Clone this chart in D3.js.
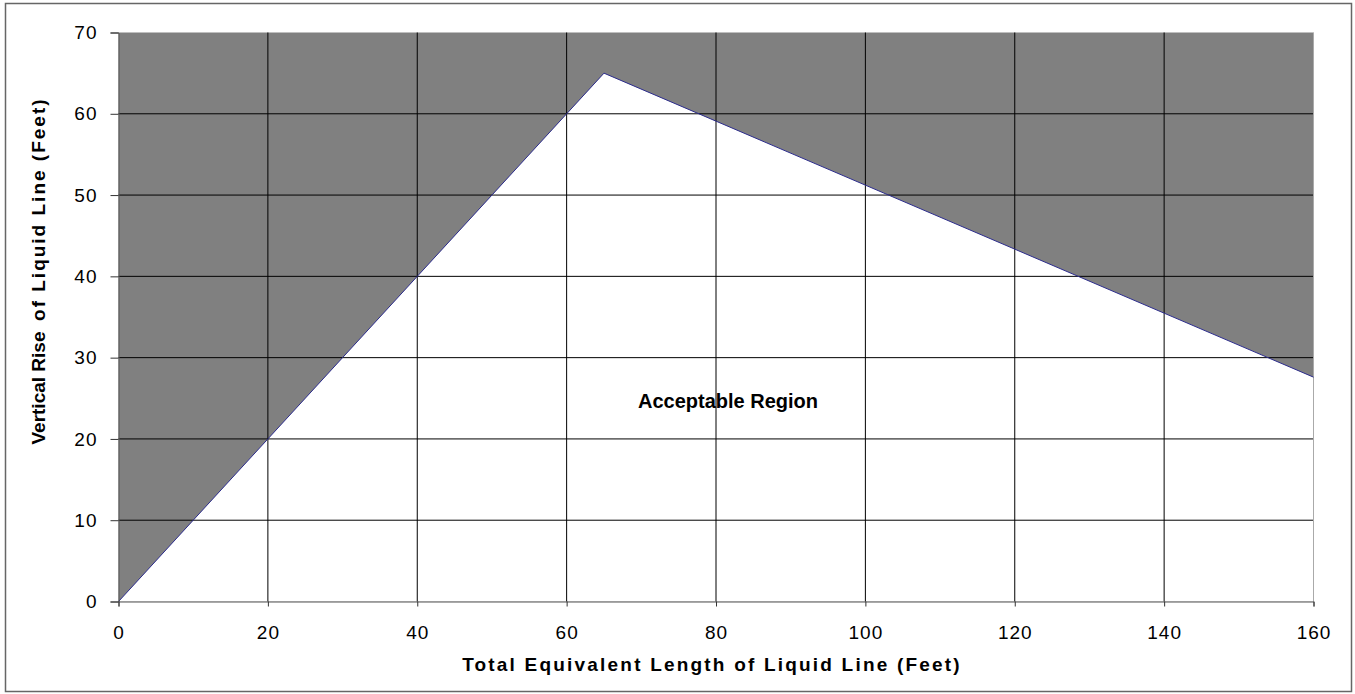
<!DOCTYPE html>
<html>
<head>
<meta charset="utf-8">
<script src="https://cdn.jsdelivr.net/npm/d3@7"></script>
<style>
  body { margin: 0; background: #fff; }
  text { font-family: Arial, "Liberation Sans", sans-serif; }
</style>
</head>
<body>
<svg id="chart" width="1355" height="694"></svg>
<script>
// boundary of the acceptable region (feet)
const lengths = [0, 65, 160];
const rises = [0, 65, 27.6];
const xTicks = [0, 20, 40, 60, 80, 100, 120, 140, 160];
const yTicks = [0, 10, 20, 30, 40, 50, 60, 70];

const svg = d3.select("#chart");

// outer frame
svg.append("rect")
    .attr("x", 5.5).attr("y", 3.5)
    .attr("width", 1346).attr("height", 688)
    .attr("fill", "#fff")
    .attr("stroke", "#666")
    .attr("stroke-width", 1.5);

const plotLeft = 118.5, plotRight = 1313.5, plotTop = 32.5, plotBottom = 601.5;

const x = d3.scaleLinear().domain([0, 160]).range([plotLeft, plotRight]);
const y = d3.scaleLinear().domain([0, 70]).range([plotBottom, plotTop]);

// shaded (not allowed) area
svg.append("rect")
    .attr("x", plotLeft).attr("y", plotTop)
    .attr("width", plotRight - plotLeft).attr("height", plotBottom - plotTop)
    .attr("fill", "#808080");

// acceptable region, white
const pts = lengths.map((l, i) => [x(l), y(rises[i])]);
const area = [...pts, [x(160), y(0)], [x(0), y(0)]];
svg.append("path")
    .attr("d", d3.line()(area) + "Z")
    .attr("fill", "#fff");

// grid
svg.append("g").selectAll("line")
    .data(yTicks.slice(1, -1))
    .enter().append("line")
    .attr("x1", plotLeft).attr("x2", plotRight)
    .attr("y1", d => y(d)).attr("y2", d => y(d))
    .attr("stroke", "#000").attr("stroke-width", 1);

svg.append("g").selectAll("line")
    .data(xTicks.slice(1, -1))
    .enter().append("line")
    .attr("x1", d => x(d)).attr("x2", d => x(d))
    .attr("y1", plotTop).attr("y2", plotBottom)
    .attr("stroke", "#000").attr("stroke-width", 1);

// right edge of plot
svg.append("line")
    .attr("x1", plotRight).attr("x2", plotRight)
    .attr("y1", plotTop).attr("y2", plotBottom)
    .attr("stroke", "#aaa");

// boundary line
svg.append("path")
    .attr("d", d3.line()(pts))
    .attr("fill", "none")
    .attr("stroke", "#2b2b8c")
    .attr("stroke-width", 1);

// axes
const yAxis = d3.axisLeft(y).tickValues(yTicks).tickSize(8).tickPadding(13);
const gy = svg.append("g").attr("transform", `translate(${plotLeft},0)`).call(yAxis);
gy.select(".domain").attr("stroke", "#555");
gy.selectAll(".tick line").attr("stroke", "#333");
gy.selectAll("text").attr("font-size", 19).attr("fill", "#000")
    .attr("letter-spacing", 1)
    .attr("font-family", "Arial, 'Liberation Sans', sans-serif");

const xAxis = d3.axisBottom(x).tickValues(xTicks).tickSize(5).tickPadding(19);
const gx = svg.append("g").attr("transform", `translate(0,${plotBottom})`).call(xAxis);
gx.select(".domain").attr("stroke", "#555");
gx.selectAll(".tick line").attr("stroke", "#333");
gx.selectAll("text").attr("font-size", 19).attr("fill", "#000")
    .attr("letter-spacing", 1)
    .attr("font-family", "Arial, 'Liberation Sans', sans-serif");

// titles
svg.append("text")
    .attr("x", 712).attr("y", 671)
    .attr("text-anchor", "middle")
    .attr("font-size", 19).attr("font-weight", "bold")
    .attr("letter-spacing", 2.2)
    .text("Total Equivalent Length of Liquid Line (Feet)");

const yTitle = svg.append("text")
    .attr("transform", "translate(45,271) rotate(-90)")
    .attr("text-anchor", "middle")
    .attr("font-size", 19).attr("font-weight", "bold")
    .attr("xml:space", "preserve");
yTitle.append("tspan").text("Vertical Rise  ");
yTitle.append("tspan").attr("letter-spacing", 2).text("of Liquid Line (Feet)");

svg.append("text")
    .attr("x", 728).attr("y", 408)
    .attr("text-anchor", "middle")
    .attr("font-size", 20).attr("font-weight", "bold")
    .text("Acceptable Region");
</script>
</body>
</html>
